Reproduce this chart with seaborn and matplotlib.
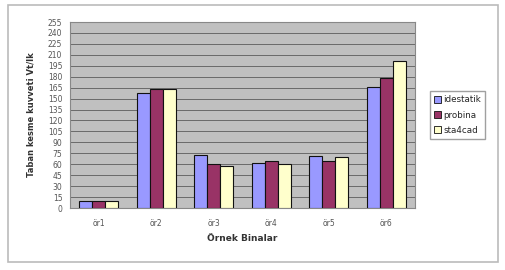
import matplotlib
matplotlib.use("Agg")
import matplotlib.pyplot as plt
import numpy as np
import pandas as pd
import seaborn as sns
from matplotlib.patches import Rectangle

binalar = ["ör1", "ör2", "ör3", "ör4", "ör5", "ör6"]
idestatik = [10, 158, 72, 62, 71, 166]
probina = [10, 163, 60, 65, 65, 178]
sta4cad = [10, 163, 58, 60, 70, 201]

seriler = ["idestatik", "probina", "sta4cad"]
renkler = ["#9999FF", "#993366", "#FFFFCC"]

df = pd.DataFrame({
    "bina": binalar * 3,
    "program": np.repeat(seriler, len(binalar)),
    "deger": idestatik + probina + sta4cad,
})

sns.set_style("white")
plt.rcParams["font.family"] = ["DejaVu Sans"]

fig = plt.figure(figsize=(5.05, 2.70), dpi=100)
fig.patch.set_facecolor("white")
# outer chart frame
fig.add_artist(Rectangle((8 / 505, 8 / 270), 490 / 505, 257 / 270,
                         transform=fig.transFigure, fill=False,
                         edgecolor="#BBBBBB", linewidth=1.2))

ax = fig.add_axes([70 / 505, 62 / 270, 345 / 505, 186 / 270])
ax.set_facecolor("#C0C0C0")

sns.barplot(data=df, x="bina", y="deger", hue="program", palette=renkler,
            edgecolor="#111111", linewidth=0.8, width=0.68, saturation=1,
            ax=ax, zorder=3)

ax.set_ylim(0, 255)
ax.set_yticks(np.arange(0, 256, 15))
ax.yaxis.grid(True, color="#6A6A6A", linewidth=0.7, zorder=0)
ax.set_axisbelow(True)
ax.tick_params(axis="both", labelsize=5.5, colors="#555555", length=2)
ax.tick_params(axis="x", length=0, pad=8)
# small ticks between the categories
ax.set_xticks(np.arange(0.5, len(binalar) - 1, 1), minor=True)
ax.tick_params(axis="x", which="minor", length=2, color="#777777")
for s in ax.spines.values():
    s.set_color("#888888")
    s.set_linewidth(0.8)

ax.set_xlabel("Örnek Binalar", fontsize=6.5, fontweight="bold", color="#333333")
ax.set_ylabel("Taban kesme kuvveti Vt/lk", fontsize=6, fontweight="bold",
              color="#333333", labelpad=9)

leg = ax.legend(loc="center left", bbox_to_anchor=(1.03, 0.5), fontsize=6.3,
                frameon=True, fancybox=False, edgecolor="#888888",
                handlelength=0.8, handleheight=0.8, handletextpad=0.3,
                labelspacing=0.7, borderpad=0.45)
for h in leg.legend_handles:
    h.set_edgecolor("#111111")
    h.set_linewidth(0.6)

fig.savefig("out.png", dpi=100)
